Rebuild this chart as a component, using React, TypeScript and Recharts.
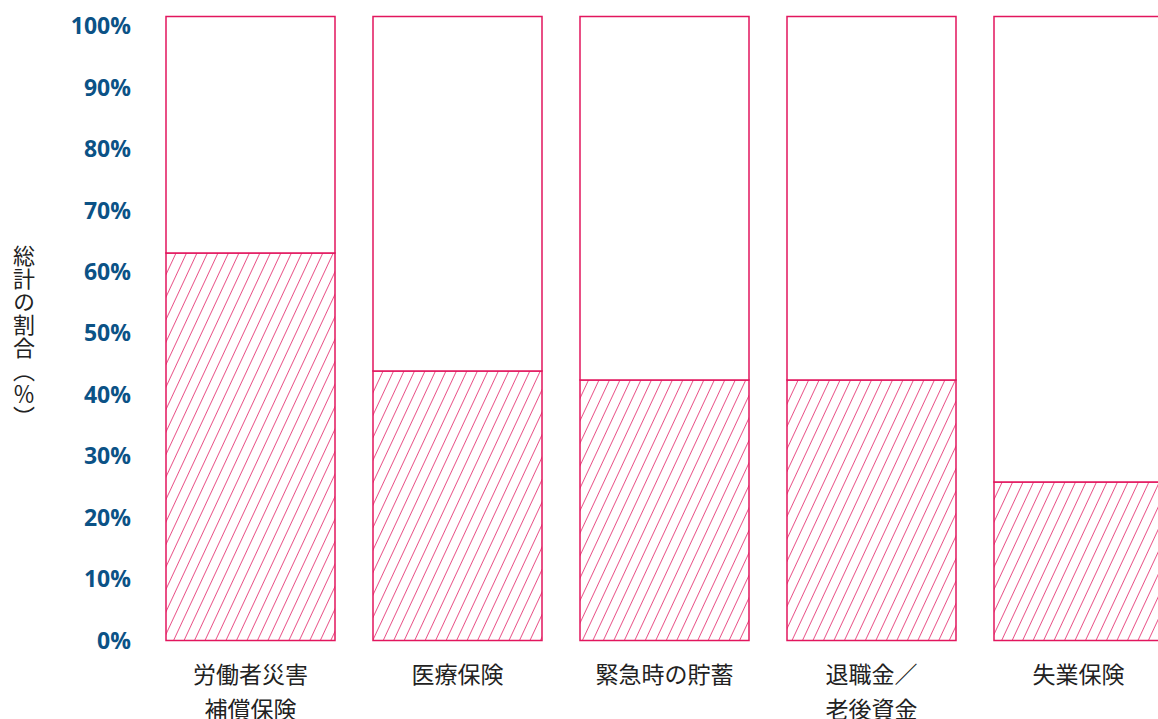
import { BarChart, Bar, XAxis, YAxis } from 'recharts';

// insurance categories (line breaks as in the original labels)
const categories = ['労働者災害\n補償保険', '医療保険', '緊急時の貯蓄', '退職金／\n老後資金', '失業保険'];
// share of total (%) — hatched part of each bar
const shares = [63.1, 43.9, 42.4, 42.4, 25.8];
// bars in the original run a little past the 100% tick
const barTotal = 101.6;
const yTicks = [0, 10, 20, 30, 40, 50, 60, 70, 80, 90, 100];

const PINK = '#e2165e';

const data = categories.map((name, i) => ({
  name,
  share: shares[i],
  rest: barTotal - shares[i],
}));

const YTick = ({ x, y, payload }: any) => (
  <text
    x={x}
    y={y}
    dy={8}
    textAnchor="end"
    fill="#0b5286"
    fontSize={23}
    fontWeight={700}
    fontFamily="'Open Sans', sans-serif"
  >
    {payload.value}%
  </text>
);

const XTick = ({ x, y, payload }: any) => {
  const lines = String(payload.value).split('\n');
  return (
    <text x={x} y={y} textAnchor="middle" fill="#222" fontSize={23} fontFamily="'Noto Sans CJK JP', sans-serif">
      {lines.map((line, i) => (
        <tspan key={i} x={x} dy={i === 0 ? 42 : 35}>
          {line}
        </tspan>
      ))}
    </text>
  );
};

const YLabel = ({ viewBox }: any) => (
  <text
    x={24}
    y={viewBox.y + viewBox.height / 2 + 8}
    textAnchor="middle"
    fill="#222"
    fontSize={22}
    letterSpacing={1}
    fontFamily="'Noto Sans CJK JP', sans-serif"
    style={{ writingMode: 'vertical-rl' } as any}
  >
    総計の割合（％）
  </text>
);

export default function App() {
  return (
    <div style={{ position: 'absolute', left: 0, top: 0, width: 1158, height: 719, overflow: 'hidden', background: '#fff' }}>
      <BarChart width={1200} height={719} data={data} margin={{ top: 16.5, right: 18, bottom: 0, left: 0 }} barCategoryGap={19}>
        <defs>
          <pattern id="hatch" width={9.5} height={9.5} patternUnits="userSpaceOnUse" patternTransform="rotate(25)">
            <rect width={9.5} height={9.5} fill="#fff" />
            <line x1={0} y1={0} x2={0} y2={9.5} stroke={PINK} strokeWidth={1.4} />
          </pattern>
        </defs>
        <XAxis dataKey="name" axisLine={false} tickLine={false} tickSize={0} tickMargin={0} height={78.5} tick={<XTick />} interval={0} />
        <YAxis
          type="number"
          domain={[0, barTotal]}
          ticks={yTicks}
          axisLine={false}
          tickLine={false}
          tickSize={0}
          tickMargin={16}
          width={147}
          tick={<YTick />}
          label={{ content: <YLabel /> }}
        />
        <Bar dataKey="share" stackId="a" fill="url(#hatch)" stroke={PINK} strokeWidth={1.5} isAnimationActive={false} />
        <Bar dataKey="rest" stackId="a" fill="#fff" stroke={PINK} strokeWidth={1.5} isAnimationActive={false} />
      </BarChart>
    </div>
  );
}
